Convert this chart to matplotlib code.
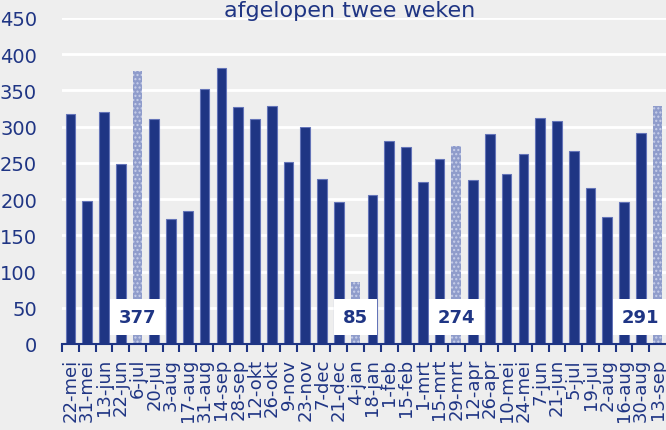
import matplotlib.pyplot as plt
import numpy as np

# Data
dates = ['22-mei', '31-mei', '13-jun', '22-jun', '6-jul', '20-jul', '3-aug', '17-aug',
         '31-aug', '14-sep', '28-sep', '12-okt', '26-okt', '9-nov', '23-nov', '7-dec',
         '21-dec', '4-jan', '18-jan', '1-feb', '15-feb', '1-mrt', '15-mrt', '29-mrt',
         '12-apr', '26-apr', '10-mei', '24-mei', '7-jun', '21-jun', '5-jul', '19-jul',
         '2-aug', '16-aug', '30-aug', '13-sep']
values = [318, 198, 320, 249, 377, 310, 173, 183,
          352, 381, 327, 310, 329, 251, 300, 228,
          196, 85, 205, 280, 272, 224, 255, 274,
          226, 290, 234, 262, 312, 308, 267, 216,
          175, 196, 291, 328]
highlighted = ['6-jul', '4-jan', '29-mrt', '13-sep']
callouts = {'6-jul': '377', '4-jan': '85', '29-mrt': '274', '30-aug': '291'}

navy = '#1F3584'
light = '#8F9CCB'
bg = '#EEEEEE'

plt.rcParams['hatch.color'] = '#C9D0EA'
plt.rcParams['font.family'] = ['DejaVu Sans']

fig = plt.figure(figsize=(6.66, 4.31), dpi=100, facecolor=bg)
ax = fig.add_axes([62 / 666, 1 - 345 / 431, 1 - 62 / 666, (345 - 19) / 431])
ax.set_facecolor(bg)

x = np.arange(len(dates)) + 0.5
for xi, d, v in zip(x, dates, values):
    if d in highlighted:
        ax.bar(xi, v, width=0.57, color=light, hatch='....', linewidth=0, zorder=2)
    else:
        ax.bar(xi, v, width=0.57, color=navy, edgecolor='#6474B8', linewidth=0.8, zorder=2)

# white callout boxes with the highlighted numbers
for d, txt in callouts.items():
    i = dates.index(d)
    ax.text(x[i], 37, txt, ha='center', va='center', fontsize=13, fontweight='bold',
            color=navy, zorder=4,
            bbox=dict(boxstyle='square,pad=0.5', facecolor='white', edgecolor='none'))

ax.set_xlim(0, len(dates))
ax.set_ylim(0, 450)
ax.set_yticks(range(0, 451, 50))
ax.yaxis.grid(True, color='white', linewidth=2, zorder=0)
ax.set_axisbelow(True)

ax.set_xticks(x)
ax.set_xticklabels(dates, rotation=90, fontsize=13, color=navy)
ax.set_xticks(np.arange(len(dates)), minor=True)
ax.tick_params(axis='x', which='major', length=0, pad=10)
ax.tick_params(axis='x', which='minor', length=6, width=1.5, color=navy)
ax.tick_params(axis='y', length=0, labelsize=14, labelcolor=navy, pad=18)

for s in ['top', 'right', 'left']:
    ax.spines[s].set_visible(False)
ax.spines['bottom'].set_color(navy)
ax.spines['bottom'].set_linewidth(1.5)

fig.text(0.525, 1 - 17 / 431, 'afgelopen twee weken', ha='center', va='baseline',
         fontsize=16, color=navy)

plt.savefig('out.png', dpi=100, facecolor=bg)
plt.close()
